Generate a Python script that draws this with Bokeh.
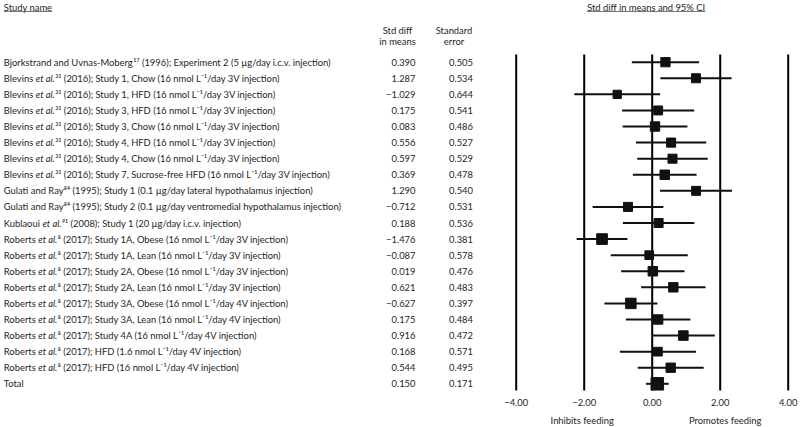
import os, glob, subprocess
import numpy as np
from bokeh.plotting import figure
from bokeh.layouts import row
from bokeh.models import Range1d, ColumnDataSource
from bokeh.core.properties import value
from bokeh.embed import file_html
from bokeh.resources import INLINE

# ---------------- data ----------------
authors = ["Bjorkstrand and Uvnas-Moberg", "Blevins", "Blevins", "Blevins", "Blevins",
           "Blevins", "Blevins", "Blevins", "Gulati and Ray", "Gulati and Ray", "Kublaoui",
           "Roberts", "Roberts", "Roberts", "Roberts", "Roberts", "Roberts", "Roberts",
           "Roberts", "Roberts"]
et_al = [False, True, True, True, True, True, True, True, False, False, True,
         True, True, True, True, True, True, True, True, True]
refs = ["17", "31", "31", "31", "31", "31", "31", "31", "84", "84", "91",
        "8", "8", "8", "8", "8", "8", "8", "8", "8"]
years = ["1996", "2016", "2016", "2016", "2016", "2016", "2016", "2016", "1995", "1995", "2008",
         "2017", "2017", "2017", "2017", "2017", "2017", "2017", "2017", "2017"]
designs = [
    "Experiment 2 (5 µg/day i.c.v. injection)",
    "Study 1, Chow (16 nmol L⁻¹/day 3V injection)",
    "Study 1, HFD (16 nmol L⁻¹/day 3V injection)",
    "Study 3, HFD (16 nmol L⁻¹/day 3V injection)",
    "Study 3, Chow (16 nmol L⁻¹/day 3V injection)",
    "Study 4, HFD (16 nmol L⁻¹/day 3V injection)",
    "Study 4, Chow (16 nmol L⁻¹/day 3V injection)",
    "Study 7, Sucrose-free HFD (16 nmol L⁻¹/day 3V injection)",
    "Study 1 (0.1 µg/day lateral hypothalamus injection)",
    "Study 2 (0.1 µg/day ventromedial hypothalamus injection)",
    "Study 1 (20 µg/day i.c.v. injection)",
    "Study 1A, Obese (16 nmol L⁻¹/day 3V injection)",
    "Study 1A, Lean (16 nmol L⁻¹/day 3V injection)",
    "Study 2A, Obese (16 nmol L⁻¹/day 3V injection)",
    "Study 2A, Lean (16 nmol L⁻¹/day 3V injection)",
    "Study 3A, Obese (16 nmol L⁻¹/day 4V injection)",
    "Study 3A, Lean (16 nmol L⁻¹/day 4V injection)",
    "Study 4A (16 nmol L⁻¹/day 4V injection)",
    "HFD (1.6 nmol L⁻¹/day 4V injection)",
    "HFD (16 nmol L⁻¹/day 4V injection)",
]
std_diff = [0.390, 1.287, -1.029, 0.175, 0.083, 0.556, 0.597, 0.369, 1.290, -0.712,
            0.188, -1.476, -0.087, 0.019, 0.621, -0.627, 0.175, 0.916, 0.168, 0.544]
std_err = [0.505, 0.534, 0.644, 0.541, 0.486, 0.527, 0.529, 0.478, 0.540, 0.531,
           0.536, 0.381, 0.578, 0.476, 0.483, 0.397, 0.484, 0.472, 0.571, 0.495]
total_label = "Total"
total_diff = 0.150
total_err = 0.171
ticks = [-4, -2, 0, 2, 4]
tick_labels = ["−4.00", "−2.00", "0.00", "2.00", "4.00"]

# ---------------- layout constants ----------------
FONT = "Lato"
FS = 9.4
TXT = "#1e1e1e"
W, H = 800, 427
LEFT_W = 480
RIGHT_W = W - LEFT_W
ROW0, ROW_H = 61.7, 16.08   # page y of first row and row pitch
PX_PER_UNIT = 34.0
ZERO_PAGE_X = 651.7


def ry(page_y):
    return (page_y - ROW0) / ROW_H


def font_path(pattern, globs):
    try:
        out = subprocess.run(["fc-match", "-f", "%{file}", pattern],
                             capture_output=True, text=True, timeout=5).stdout.strip()
        if out and os.path.exists(out):
            return out
    except Exception:
        pass
    for g in globs:
        hits = sorted(glob.glob(g, recursive=True))
        if hits:
            return hits[0]
    return None


reg_path = font_path(FONT, ["/usr/share/fonts/**/Lato-Regular.ttf",
                            "/usr/share/fonts/**/Lato*.ttf"])
ita_path = font_path(FONT + ":style=Italic", ["/usr/share/fonts/**/Lato-Italic.ttf"]) or reg_path


def measure(text, path, size=FS):
    try:
        from PIL import ImageFont
        f = ImageFont.truetype(path, int(round(size * 20)))
        return f.getlength(text) / 20.0
    except Exception:
        return len(text) * size * 0.50


SUP = str.maketrans("0123456789", "⁰¹²³⁴⁵⁶⁷⁸⁹")
n = len(authors)
rows = np.arange(n + 1)


def base_fig(width, xr):
    f = figure(width=width, height=H, x_range=xr, y_range=Range1d(ry(H), ry(0)),
               output_backend="svg", toolbar_location=None, min_border=0,
               x_axis_type=None, y_axis_type=None)
    f.xgrid.visible = False
    f.ygrid.visible = False
    f.outline_line_color = None
    f.background_fill_color = None
    f.border_fill_color = None
    return f


# ---------------- left: table ----------------
left = base_fig(LEFT_W, Range1d(0, LEFT_W))

NAME_X = 3.3
p1, p2, p3, x2, x3 = [], [], [], [], []
for a, e, r_, y_, d_ in zip(authors, et_al, refs, years, designs):
    first = a + " " if e else a
    ital = "et al." if e else ""
    rest = f"{r_.translate(SUP)} ({y_}); {d_}"
    w1 = measure(first, reg_path)
    w2 = measure(ital, ita_path) if e else 0.0
    p1.append(first); p2.append(ital); p3.append(rest)
    x2.append(NAME_X + w1); x3.append(NAME_X + w1 + w2 + (0.4 if e else 0.2))
p1.append(total_label); p2.append(""); p3.append("")
x2.append(NAME_X); x3.append(NAME_X)

common = dict(text_font=value(FONT), text_font_size=f"{FS}px", text_color=TXT,
              text_baseline="middle")
left.text(x=[NAME_X] * (n + 1), y=rows, text=p1, **common)
left.text(x=x2, y=rows, text=p2, text_font_style="italic", **common)
left.text(x=x3, y=rows, text=p3, **common)

fmt = lambda v: f"{v:.3f}".replace("-", "−")
diffs_all = std_diff + [total_diff]
errs_all = std_err + [total_err]
left.text(x=[415.0] * (n + 1), y=rows, text=[fmt(v) for v in diffs_all],
          text_align="right", **common)
left.text(x=[472.5] * (n + 1), y=rows, text=[fmt(v) for v in errs_all],
          text_align="right", **common)

# headers
left.text(x=[397, 397, 453.5, 453.5], y=[ry(29.5), ry(41), ry(29.5), ry(41)],
          text=["Std diff", "in means", "Standard", "error"], text_align="center", **common)
left.text(x=[NAME_X], y=[ry(7)], text=["Study name"], **common)
sw = measure("Study name", reg_path)
left.segment(x0=[NAME_X], y0=[ry(11)], x1=[NAME_X + sw], y1=[ry(11)],
             line_color="#555555", line_width=0.8)

# ---------------- right: forest plot ----------------
x_start = -4 - (ZERO_PAGE_X - 4 * PX_PER_UNIT - LEFT_W) / PX_PER_UNIT
right = base_fig(RIGHT_W, Range1d(x_start, x_start + RIGHT_W / PX_PER_UNIT))

right.segment(x0=ticks, y0=[ry(54)] * len(ticks), x1=ticks, y1=[ry(390)] * len(ticks),
              line_color="#000000", line_width=2)

d = np.array(diffs_all)
se = np.array(errs_all)
lo = d - 1.96 * se
hi = d + 1.96 * se
sizes = np.clip(4.8 + 2.24 / se, 7.5, 12.5)
src = ColumnDataSource(dict(y=rows, d=d, lo=lo, hi=hi, s=sizes))
right.segment(x0="lo", y0="y", x1="hi", y1="y", source=src, line_color="#111111", line_width=2)
right.scatter(x="d", y="y", size="s", marker="square", source=src,
              fill_color="#111111", line_color="#111111")

right.text(x=ticks, y=[ry(402)] * len(ticks), text=tick_labels, text_align="center", **common)
right.text(x=[-2, 2], y=[ry(420)] * 2, text=["Inhibits feeding", "Promotes feeding"],
           text_align="center", x_offset=[-2, 5], **common)

title = "Std diff in means and 95% CI"
tw = measure(title, reg_path)
right.text(x=[0], y=[ry(7)], text=[title], text_align="center", x_offset=-6, **common)
right.segment(x0=[-(6 + tw / 2) / PX_PER_UNIT], y0=[ry(11)],
              x1=[(-6 + tw / 2) / PX_PER_UNIT], y1=[ry(11)],
              line_color="#555555", line_width=0.8)

layout = row(left, right)
open("out.html", "w").write(file_html(layout, INLINE))
